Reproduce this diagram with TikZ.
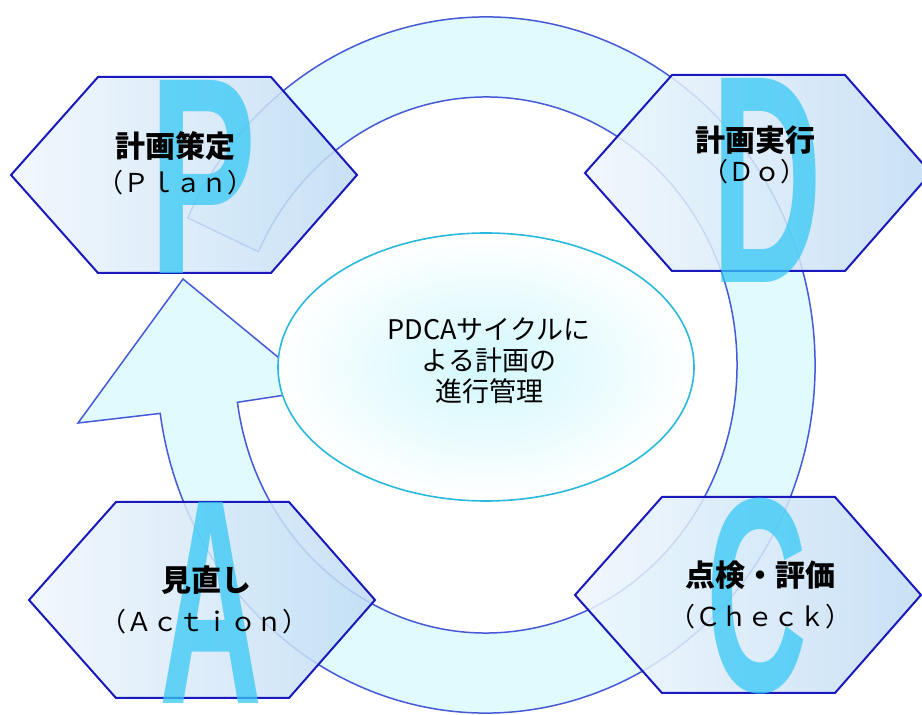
\documentclass[tikz,border=0pt]{standalone}
\usepackage{fontspec}
\setmainfont{Liberation Sans}
\newfontfamily\cjk{Noto Sans CJK JP}
\newfontfamily\bigletterfont{Liberation Sans}
\usetikzlibrary{calc,shapes.geometric}
\definecolor{ringline}{RGB}{70,90,215}
\definecolor{ringfill}{RGB}{224,250,253}
\definecolor{hexline}{RGB}{25,25,190}
\definecolor{hexL}{RGB}{240,247,253}
\definecolor{hexR}{RGB}{192,220,244}
\definecolor{letterc}{RGB}{55,200,245}
\definecolor{ellline}{RGB}{40,185,220}
\definecolor{ellin}{RGB}{210,247,252}
\newcommand\hexshape[1]{\path[hexst] (#1) +(-173,0) -- +(-86,98) -- +(87,98) -- +(173,0) -- +(87,-98) -- +(-86,-98) -- cycle;}
\begin{document}
\begin{tikzpicture}[x=1pt,y=1pt,
  ringst/.style={draw=ringline, line width=1.5pt, fill=ringfill, line join=miter},
  hexst/.style={draw=hexline, line width=2pt, left color=hexL, right color=hexR, fill opacity=0.85},
  bigletter/.style={text=letterc, opacity=0.75, inner sep=0pt, font=\bigletterfont\bfseries},
  titlest/.style={font=\cjk\bfseries\fontsize{30}{34}\selectfont, inner sep=0pt, text=black},
  subst/.style={font=\cjk\fontsize{26}{30}\selectfont, inner sep=0pt, text=black},
  ellst/.style={ellipse, draw=ellline, line width=1.6pt, inner color=ellin, outer color=white, minimum width=416pt, minimum height=268pt},
  midtext/.style={font=\cjk\fontsize{27}{31}\selectfont, align=center, inner sep=0pt},
]
\clip (0,0) rectangle (922,715);
\fill[white] (0,0) rectangle (922,715);
% circular arrow ring
\coordinate (rc) at (486,350);
\coordinate (barbL) at (78,292);
\coordinate (tip) at (183,436);
\coordinate (barbR) at (318,325);
\path[ringst] ($(rc)+(155:329pt and 348pt)$)
  arc[start angle=155, end angle=-172, x radius=329pt, y radius=348pt]
  -- (barbL) -- (tip) -- (barbR)
  -- ($(rc)+(-172:251pt and 268pt)$)
  arc[start angle=-172, end angle=155, x radius=251pt, y radius=268pt]
  -- cycle;
% central ellipse
\node[ellst] (center) at (486,348) {};
\node[midtext] (centertxt) at (489,354) {PDCAサイクルに\\よる計画の\\進行管理};
% hexagons
\coordinate (plan) at (184,540);
\coordinate (do) at (758,542);
\coordinate (act) at (202,115);
\coordinate (chk) at (748,120);
\hexshape{plan}
\hexshape{do}
\hexshape{act}
\hexshape{chk}
% big letters
\node[bigletter] (bigP) at (203.5,538.5) {\resizebox{107pt}{193pt}{P}};
\node[bigletter] (bigD) at (767.5,535) {\resizebox{111pt}{204pt}{D}};
\node[bigletter] (bigA) at (211.5,112.5) {\resizebox{103pt}{201pt}{A}};
\node[bigletter] (bigC) at (757.5,118.5) {\resizebox{101pt}{193pt}{C}};
% texts
\node[titlest] (plant) at (175,569) {計画策定};
\node[subst] (plans) at (175,532) {（Ｐｌａｎ）};
\node[titlest] (dot) at (755,575) {計画実行};
\node[subst] (dos) at (754,543) {（Ｄｏ）};
\node[titlest] (actt) at (206,135) {見直し};
\node[subst] (acts) at (204,93) {（Ａｃｔｉｏｎ）};
\node[titlest] (chkt) at (760,140) {点検・評価};
\node[subst] (chks) at (760,98) {（Ｃｈｅｃｋ）};
\end{tikzpicture}
\end{document}
